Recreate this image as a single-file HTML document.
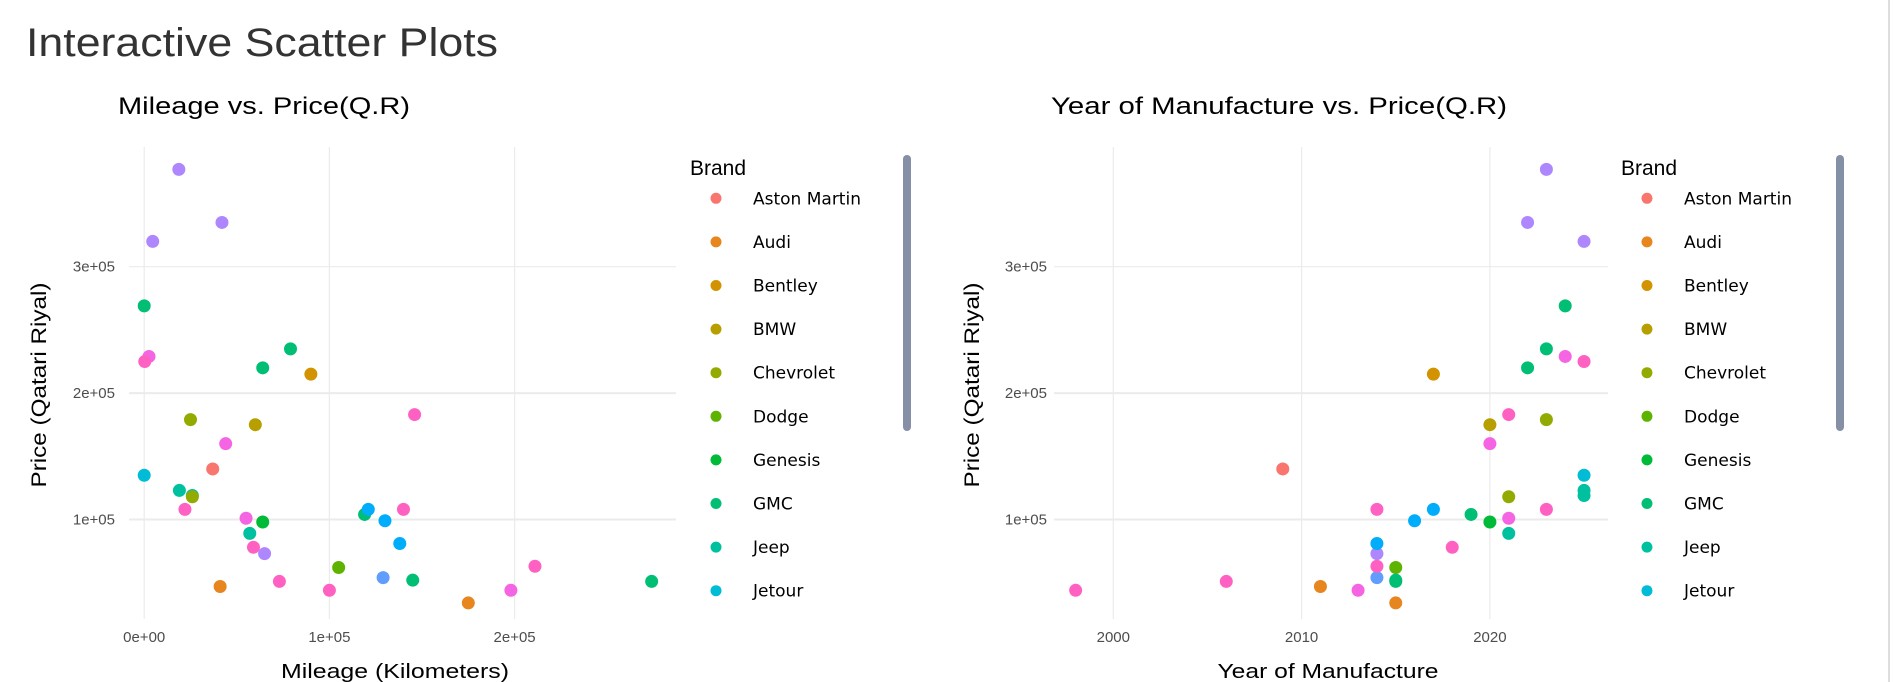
<!DOCTYPE html>
<html><head><meta charset="utf-8"><style>
body{margin:0;background:#fff;}
svg{display:block;font-family:"Liberation Sans",sans-serif;}
</style></head><body>
<svg id="c" width="1893" height="682">
<text x="26" y="56" font-size="40" fill="#333" textLength="472" lengthAdjust="spacingAndGlyphs">Interactive Scatter Plots</text>
<line x1="1889" y1="0" x2="1889" y2="682" stroke="#ddd" stroke-width="2"/>
</svg>
<script>
const brands=["Aston Martin","Audi","Bentley","BMW","Chevrolet","Dodge","Genesis","GMC","Jeep","Jetour","B11","B12","B13","B14","B15","B16","B17","B18"];
const colors=["#F8766D","#E7851E","#D39200","#B79F00","#93AA00","#5EB300","#00BA38","#00BF74","#00C19F","#00BCD6","#00B9E3","#00ADFA","#619CFF","#AE87FF","#DB72FB","#F564E3","#FF61C3","#FF699C"];
const mileage=[18700,42000,4600,0,2600,300,79000,64000,90000,146000,25000,60000,44000,37000,0,19000,26000,26000,22000,55000,64000,57000,59000,65000,119000,121000,140000,130000,138000,105000,129000,145000,73000,41000,100000,175000,198000,211000,274000];
const year=[2023,2022,2025,2024,2024,2025,2023,2022,2017,2021,2023,2020,2020,2009,2025,2025,2025,2021,2023,2021,2020,2021,2018,2014,2019,2017,2014,2016,2014,2015,2014,2015,2006,2011,1998,2015,2013,2014,2015];
const price=[377000,335000,320000,269000,229000,225000,235000,220000,215000,183000,179000,175000,160000,140000,135000,123000,119000,118000,108000,101000,98000,89000,78000,73000,104000,108000,108000,99000,81000,62000,54000,52000,51000,47000,44000,34000,44000,63000,51000];
const brandIdx=[13,13,13,7,15,16,7,7,2,16,4,3,15,0,9,8,8,4,16,15,6,8,16,13,7,11,16,11,11,5,12,7,16,1,16,1,15,16,7];
const yTicks=[100000,200000,300000];
const yTickLabels=["1e+05","2e+05","3e+05"];
const xLTicks=[0,100000,200000];
const xLTickLabels=["0e+00","1e+05","2e+05"];
const xRTicks=[2000,2010,2020];
const xRTickLabels=["2000","2010","2020"];

const svg=document.getElementById('c');
const NS="http://www.w3.org/2000/svg";
function mk(tag,attrs,parent){const e=document.createElementNS(NS,tag);for(const k in attrs)e.setAttribute(k,attrs[k]);(parent||svg).appendChild(e);return e;}
const yS=p=>266.7+(300000-p)/100000*126.4;
const xL=m=>144.2+m/100000*185.2;
const xR=y=>1113.3+(y-2000)*18.83;

function panel(off,xs,ticks,labels,vals,title,titleLen,xtitle,xtitleX,xtitleLen,gx0,gx1,tickRight,ytitleX,legX,sbX,pname){
  const g=mk('g',{});
  
  
  yTicks.forEach((t,i)=>{
    const l=mk('line',{x1:gx0,x2:gx1,y1:yS(t),y2:yS(t),stroke:'#ebebeb','stroke-width':i<2?2:1.2},g);
    
    
    const tx=mk('text',{x:tickRight,y:yS(t)+5,'text-anchor':'end','font-size':15,fill:'#4d4d4d'},g);
    tx.textContent=yTickLabels[i];
    
    
  });
  ticks.forEach((t,i)=>{
    const l=mk('line',{x1:xs(t),x2:xs(t),y1:147,y2:619,stroke:'#ebebeb','stroke-width':1.2},g);
    
    
    const tx=mk('text',{x:xs(t),y:642,'text-anchor':'middle','font-size':15,fill:'#4d4d4d'},g);
    tx.textContent=labels[i];
    
    
  });
  const st=mk('text',{x:off,y:114,'font-size':24,fill:'#000',textLength:titleLen,lengthAdjust:'spacingAndGlyphs'},g);
  st.textContent=title;
  
  
  const xt=mk('text',{x:xtitleX,y:678,'text-anchor':'middle','font-size':20,fill:'#000',textLength:xtitleLen,lengthAdjust:'spacingAndGlyphs'},g);
  xt.textContent=xtitle;
  
  
  const yt=mk('text',{x:0,y:0,'text-anchor':'middle','font-size':21,fill:'#000',textLength:205,lengthAdjust:'spacingAndGlyphs',transform:`translate(${ytitleX},385) rotate(-90)`},g);
  yt.textContent="Price (Qatari Riyal)";
  
  
  price.forEach((p,i)=>{
    const c=mk('circle',{cx:xs(vals[i]),cy:yS(p),r:6.5,fill:colors[brandIdx[i]]},g);
    
    
  });
  const lt=mk('text',{x:legX,y:175,'font-size':21,fill:'#000'},g);
  lt.textContent="Brand";
  
  
  for(let i=0;i<10;i++){
    const y=198.3+i*43.6;
    const c=mk('circle',{cx:legX+26,cy:y,r:5.5,fill:colors[i]},g);
    
    
    const t=mk('text',{x:legX+63,y:y+6,'font-size':17,fill:'#000','font-family':'DejaVu Sans, sans-serif'},g);
    t.textContent=brands[i];
    
    
  }
  const sb=mk('rect',{x:sbX-4,y:155,width:8,height:276,rx:4,fill:'#8590a6'},g);
  
  
}
panel(118,xL,xLTicks,xLTickLabels,mileage,"Mileage vs. Price(Q.R)",292,"Mileage (Kilometers)",395,228,129,676,115,46,690,907,'mileage-price-panel');
panel(1051,xR,xRTicks,xRTickLabels,year,"Year of Manufacture vs. Price(Q.R)",456,"Year of Manufacture",1328,221,1054,1608,1047,979,1621,1840,'year-price-panel');
</script>
</body></html>
